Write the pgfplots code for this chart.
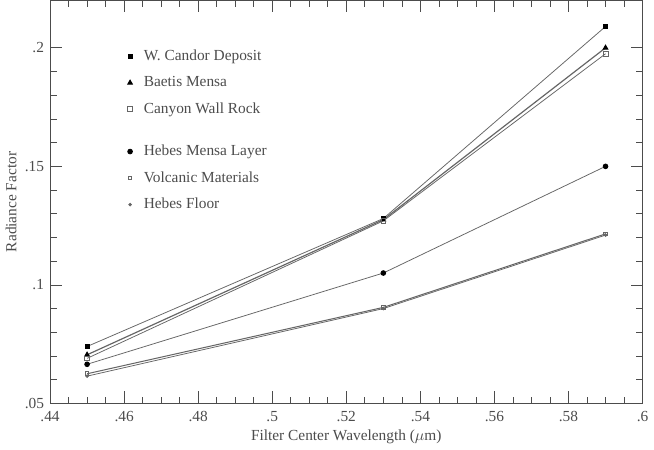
\documentclass[border=0pt]{standalone}
\usepackage{pgfplots}
\pgfplotsset{compat=1.18}
\usepackage{fontspec}
\setmainfont{Liberation Serif}
\definecolor{ln}{gray}{0.4}
\definecolor{tx}{gray}{0.3}
\begin{document}
\begin{tikzpicture}
\begin{axis}[
  scale only axis,
  width=347pt, height=236pt,
  xmin=0.44, xmax=0.60, ymin=0.05, ymax=0.22,
  xtick={0.44,0.46,0.48,0.50,0.52,0.54,0.56,0.58,0.60},
  xticklabels={.44,.46,.48,.5,.52,.54,.56,.58,.6},
  ytick={0.05,0.10,0.15,0.20},
  yticklabels={.05,.1,.15,.2},
  minor x tick num=3, minor y tick num=4,
  tick align=inside,
  major tick length=7pt, minor tick length=4pt,
  every tick/.style={color=tx, line width=0.4pt},
  axis line style={color=tx, line width=0.5pt},
  tick label style={font=\small, color=tx},
  xticklabel style={yshift=-1pt},
  /pgf/number format/assume math mode=true,
  xlabel={Filter Center Wavelength ($\mu$m)},
  ylabel={Radiance Factor},
  label style={font=\small, color=tx},
  xlabel style={yshift=2pt},
  ylabel style={yshift=-2pt},
  legend style={at={(0.115,0.895)}, anchor=north west, draw=none, fill=none,
    font=\small, text=tx, row sep=3.8pt},
  legend cell align=left,
  legend image code/.code={\draw[only marks] plot coordinates {(0.12cm,0cm)}; \path (0cm,0cm) (0.32cm,0cm);},
  every axis plot/.append style={color=ln, line width=0.45pt},
]
\addplot[mark=square*, mark size=1.1pt, mark options={fill=black, draw=black}] coordinates {(0.45,0.074) (0.53,0.128) (0.59,0.209)};
\addlegendentry{W. Candor Deposit}
\addplot[mark=triangle*, mark size=1.4pt, mark options={fill=black, draw=black}, line width=0.7pt] coordinates {(0.45,0.0705) (0.53,0.1275) (0.59,0.200)};
\addlegendentry{Baetis Mensa}
\addplot[mark=square, mark size=1.4pt, mark options={draw=ln}] coordinates {(0.45,0.069) (0.53,0.127) (0.59,0.1975)};
\addlegendentry{Canyon Wall Rock}
\addlegendimage{empty legend}
\addlegendentry{}
\addplot[mark=*, mark size=1.4pt, mark options={fill=black, draw=black}] coordinates {(0.45,0.0665) (0.53,0.105) (0.59,0.150)};
\addlegendentry{Hebes Mensa Layer}
\addplot[mark=square, mark size=1.1pt, mark options={draw=ln}, line width=0.6pt] coordinates {(0.45,0.0625) (0.53,0.0905) (0.59,0.1215)};
\addlegendentry{Volcanic Materials}
\addplot[mark=*, mark size=0.8pt, mark options={fill=ln, draw=ln}] coordinates {(0.45,0.0615) (0.53,0.0900) (0.59,0.1210)};
\addlegendentry{Hebes Floor}
\end{axis}
\end{tikzpicture}
\end{document}
